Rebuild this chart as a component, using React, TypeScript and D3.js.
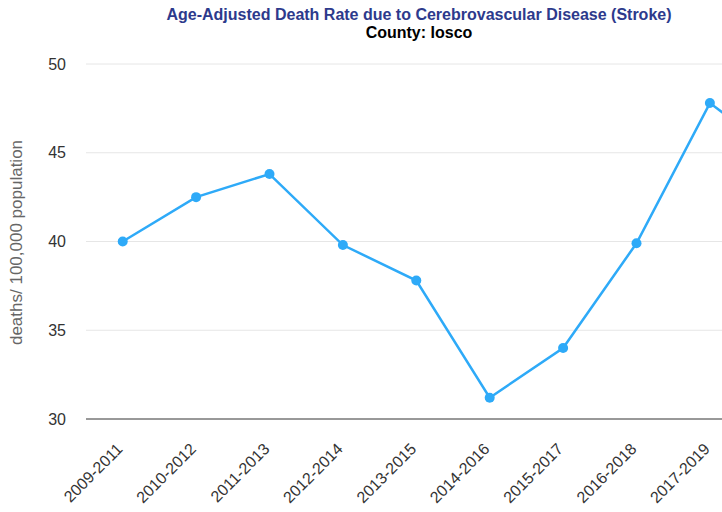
import React from "react";
import * as d3 from "d3";

const categories = ["2009-2011","2010-2012","2011-2013","2012-2014","2013-2015","2014-2016","2015-2017","2016-2018","2017-2019","2018-2020"];
const values = [40.0, 42.5, 43.8, 39.8, 37.8, 31.2, 34.0, 39.9, 47.8, 44.7];
const yTicks = [30, 35, 40, 45, 50];

const W = 722, H = 512;
const left = 86, top = 64, bottom = 419;
const step = 73.4;

export default function App() {
  const x = d3.scalePoint<string>().domain(categories).range([left + step / 2, left + step / 2 + step * (categories.length - 1)]);
  const y = d3.scaleLinear().domain([30, 50]).range([bottom, top]);
  const line = d3.line<number>().x((_, i) => x(categories[i])!).y(d => y(d));
  const font = "Arial, 'Liberation Sans', Helvetica, sans-serif";
  return (
    <div style={{ position: "absolute", left: 0, top: 0 }}>
      <svg width={W} height={H} style={{ display: "block", fontFamily: font }}>
        <rect width={W} height={H} fill="#fff" />
        <text x={419} y={20} textAnchor="middle" fontSize={16} fontWeight="bold" fill="#2d3a8c">Age-Adjusted Death Rate due to Cerebrovascular Disease (Stroke)</text>
        <text x={419} y={38} textAnchor="middle" fontSize={16} fontWeight="bold" fill="#000">County: Iosco</text>
        {yTicks.map(t => (
          <g key={t}>
            {t !== 30 && <line x1={left} x2={W} y1={y(t)} y2={y(t)} stroke="#e6e6e6" strokeWidth={1} />}
            <text x={66} y={y(t)} dy="0.35em" textAnchor="end" fontSize={16} fill="#333">{t}</text>
          </g>
        ))}
        <line x1={left} x2={W} y1={bottom} y2={bottom} stroke="#333" strokeWidth={1} />
        <text transform={`translate(22,${(top + bottom) / 2 + 1}) rotate(-90)`} textAnchor="middle" fontSize={17} fill="#666">deaths/ 100,000 population</text>
        {categories.slice(0, 9).map(c => (
          <text key={c} transform={`translate(${x(c)! - 3},${bottom + 27}) rotate(-45)`} textAnchor="end" dy="0.35em" fontSize={16} fill="#333">{c}</text>
        ))}
        <path d={line(values)!} fill="none" stroke="#2eaaf8" strokeWidth={2.5} />
        {values.map((v, i) => (
          <circle key={i} cx={x(categories[i])!} cy={y(v)} r={5} fill="#2eaaf8" />
        ))}
      </svg>
    </div>
  );
}
